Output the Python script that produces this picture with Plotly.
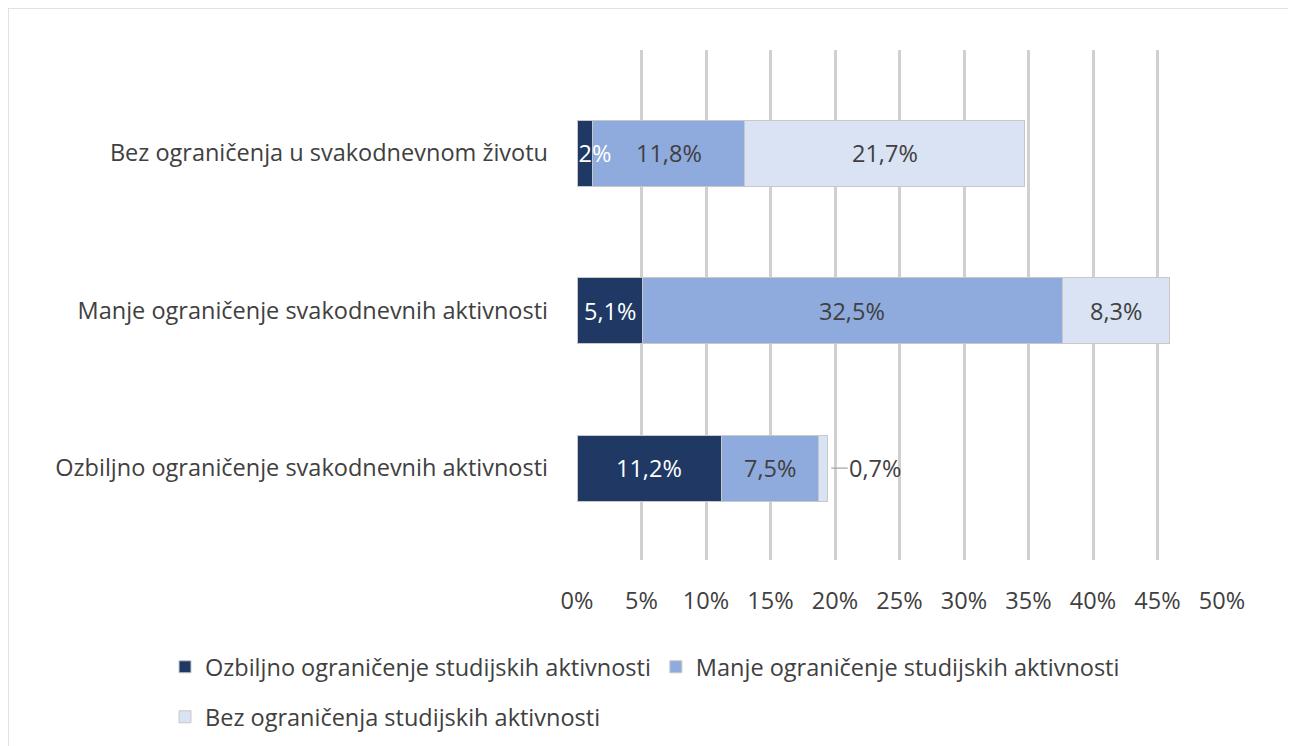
import plotly.graph_objects as go

categories = [
    "Ozbiljno ograničenje svakodnevnih aktivnosti",
    "Manje ograničenje svakodnevnih aktivnosti",
    "Bez ograničenja u svakodnevnom životu",
]
series_names = [
    "Ozbiljno ograničenje studijskih aktivnosti",
    "Manje ograničenje studijskih aktivnosti",
    "Bez ograničenja studijskih aktivnosti",
]
ozbiljno = [11.2, 5.1, 1.2]
manje = [7.5, 32.5, 11.8]
bez = [0.7, 8.3, 21.7]
x_ticks = [0, 5, 10, 15, 20, 25, 30, 35, 40, 45, 50]
x_ticklabels = [f"{t}%" for t in x_ticks]

series = [ozbiljno, manje, bez]
colors = ["#1F3864", "#8FAADC", "#DAE3F3"]
label_colors = ["#FFFFFF", "#404040", "#404040"]
legend_ids = ["legend", "legend", "legend2"]

W, H = 1296, 746
OFF = 8  # page body margin
ML, MT = 577 - OFF, 50 - OFF
PW, PH = 645, 510
MR = W - ML - PW
MB = H - MT - PH
FONT = "Open Sans, Noto Sans, sans-serif"
FS = 23.5

fig = go.Figure()
for name, vals, col, lg in zip(series_names, series, colors, legend_ids):
    fig.add_trace(go.Bar(
        y=categories, x=vals, name=name, orientation="h",
        marker=dict(color=col, line=dict(color="#C8C8C8", width=1)),
        width=0.42, hoverinfo="skip", legend=lg,
    ))

annotations = []
for i, cat in enumerate(categories):
    start = 0.0
    for s, vals in enumerate(series):
        v = vals[i]
        txt = f"{v:.1f}%".replace(".", ",")
        if v < 1.0:
            annotations.append(dict(
                x=start + v, y=cat, xref="x", yref="y", text=txt,
                showarrow=True, arrowhead=0, arrowcolor="#A6A6A6", arrowwidth=1.2,
                ax=48, ay=0, standoff=4,
                font=dict(family=FONT, size=FS, color="#404040"),
            ))
        else:
            annotations.append(dict(
                x=start + v / 2, y=cat, xref="x", yref="y", text=txt,
                showarrow=False,
                font=dict(family=FONT, size=FS, color=label_colors[s]),
            ))
        start += v


def px_x(p):
    return (p - OFF - ML) / PW


def px_y(p):
    return (MT + PH - (p - OFF)) / PH


shapes = [dict(
    type="rect", xref="paper", yref="paper",
    x0=px_x(8), x1=px_x(1295),
    y0=px_y(760), y1=px_y(8),
    line=dict(color="#D9D9D9", width=1.5), fillcolor="rgba(0,0,0,0)", layer="below",
)]

legend_common = dict(
    orientation="h", xanchor="left", yanchor="middle",
    font=dict(family=FONT, size=FS, color="#404040"),
    traceorder="normal", itemwidth=30, bgcolor="rgba(0,0,0,0)",
)

fig.update_layout(
    width=W, height=H,
    margin=dict(l=ML, r=MR, t=MT, b=MB, autoexpand=False),
    barmode="stack",
    paper_bgcolor="white", plot_bgcolor="white",
    font=dict(family=FONT, size=FS, color="#404040"),
    xaxis=dict(
        range=[0, 50], tickvals=x_ticks, ticktext=x_ticklabels,
        showgrid=True, gridcolor="#D0D0D0", gridwidth=3,
        zeroline=False, showline=False, ticks="",
        ticklabelstandoff=24,
        tickfont=dict(family=FONT, size=FS, color="#404040"),
        fixedrange=True,
    ),
    yaxis=dict(
        range=[-0.584, 2.656], showgrid=False, zeroline=False, showline=False,
        ticks="", ticklabelstandoff=28,
        tickfont=dict(family=FONT, size=FS, color="#404040"),
        fixedrange=True,
    ),
    legend=dict(x=px_x(165), y=px_y(667), **legend_common),
    legend2=dict(x=px_x(165), y=px_y(717), **legend_common),
    annotations=annotations,
    shapes=shapes,
)

fig.write_html("out.html")
